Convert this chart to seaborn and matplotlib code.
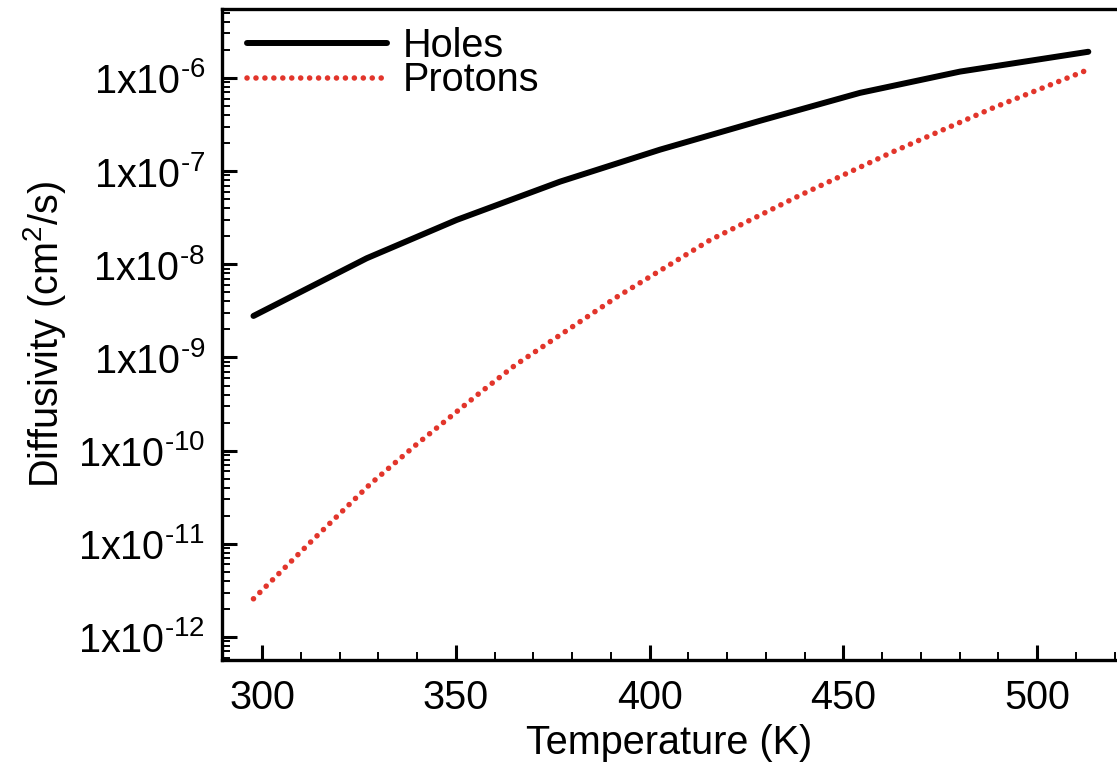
import matplotlib
matplotlib.use("Agg")
import matplotlib.pyplot as plt
import seaborn as sns
import numpy as np
import pandas as pd
from matplotlib.ticker import FixedLocator, FixedFormatter, LogLocator, MultipleLocator, NullFormatter

# ---- data ----
holes_T = [297.8, 327.0, 350.2, 376.9, 402.7, 428.5, 454.3, 480.1, 513.2]
holes_D = [2.79e-9, 1.16e-8, 2.99e-8, 7.71e-8, 1.70e-7, 3.47e-7, 6.92e-7, 1.17e-6, 1.91e-6]

protons_T = [297.8, 312.8, 327.9, 339.9, 356.2, 365.4, 391.6, 415.6, 438.8, 462.9, 488.7, 513.2]
protons_D = [2.57e-12, 1.07e-11, 4.37e-11, 1.17e-10, 4.17e-10, 8.32e-10, 4.47e-9, 1.82e-8,
             5.50e-8, 1.62e-7, 4.79e-7, 1.23e-6]

series_labels = ["Holes", "Protons"]
xtick_values = [300, 350, 400, 450, 500]
xtick_labels = ["300", "350", "400", "450", "500"]
ytick_values = [1e-12, 1e-11, 1e-10, 1e-9, 1e-8, 1e-7, 1e-6]
ytick_labels = [r"1x10$^{\text{-12}}$", r"1x10$^{\text{-11}}$", r"1x10$^{\text{-10}}$",
                r"1x10$^{\text{-9}}$", r"1x10$^{\text{-8}}$", r"1x10$^{\text{-7}}$",
                r"1x10$^{\text{-6}}$"]
x_label = "Temperature (K)"
y_label = r"Diffusivity (cm$^{\text{2}}$/s)"

sns.set_style("ticks")
plt.rcParams["font.family"] = ["Liberation Sans", "DejaVu Sans"]
plt.rcParams["mathtext.fontset"] = "custom"
plt.rcParams["mathtext.rm"] = "Liberation Sans"
plt.rcParams["mathtext.it"] = "Liberation Sans:italic"
plt.rcParams["mathtext.bf"] = "Liberation Sans:bold"
for key in ["text.color", "axes.labelcolor", "xtick.color", "ytick.color", "axes.edgecolor"]:
    plt.rcParams[key] = "black"

FS = 28.5

fig = plt.figure(figsize=(11.17, 7.71), dpi=100)
ax = fig.add_axes([222 / 1117, (771 - 660) / 771, (1117 - 222) / 1117, (660 - 9) / 771])

holes_df = pd.DataFrame({"T": holes_T, "D": holes_D})
protons_df = pd.DataFrame({"T": protons_T, "D": protons_D})

sns.lineplot(data=holes_df, x="T", y="D", ax=ax, color="black", linewidth=4.3,
             solid_capstyle="round", label=series_labels[0])
sns.lineplot(data=protons_df, x="T", y="D", ax=ax, color="#E2352B", linewidth=4.0,
             linestyle=(0, (0.01, 1.6)), dash_capstyle="round", label=series_labels[1])

ax.set_yscale("log")
ax.set_xlim(289.68, 520.6)
ax.set_ylim(10 ** -12.247, 10 ** -5.26)

ax.xaxis.set_major_locator(FixedLocator(xtick_values))
ax.xaxis.set_major_formatter(FixedFormatter(xtick_labels))
ax.xaxis.set_minor_locator(MultipleLocator(10))
ax.yaxis.set_major_locator(FixedLocator(ytick_values))
ax.yaxis.set_major_formatter(FixedFormatter(ytick_labels))
ax.yaxis.set_minor_locator(LogLocator(base=10, subs=np.arange(2, 10), numticks=30))
ax.yaxis.set_minor_formatter(NullFormatter())

ax.tick_params(axis="both", which="major", direction="in", length=11, width=2.2,
               labelsize=FS, color="black", labelcolor="black")
ax.tick_params(axis="both", which="minor", direction="in", length=5.5, width=1.4, color="black")
ax.tick_params(axis="y", which="major", pad=12)
ax.tick_params(axis="x", which="major", pad=14)

for side in ["left", "bottom", "top"]:
    ax.spines[side].set_linewidth(2.4)
    ax.spines[side].set_color("black")
ax.spines["right"].set_visible(False)

ax.set_xlabel(x_label, fontsize=FS, labelpad=5)
ax.set_ylabel(y_label, fontsize=FS)
ax.yaxis.set_label_coords(-0.172, 0.5)

leg = ax.legend(loc="upper left", bbox_to_anchor=(25 / 895, 0.973), frameon=False,
                fontsize=FS, handlelength=3.54, handletextpad=0.4, labelspacing=-0.08,
                borderpad=0, borderaxespad=0)

fig.savefig("out.png", dpi=100, facecolor="white")
